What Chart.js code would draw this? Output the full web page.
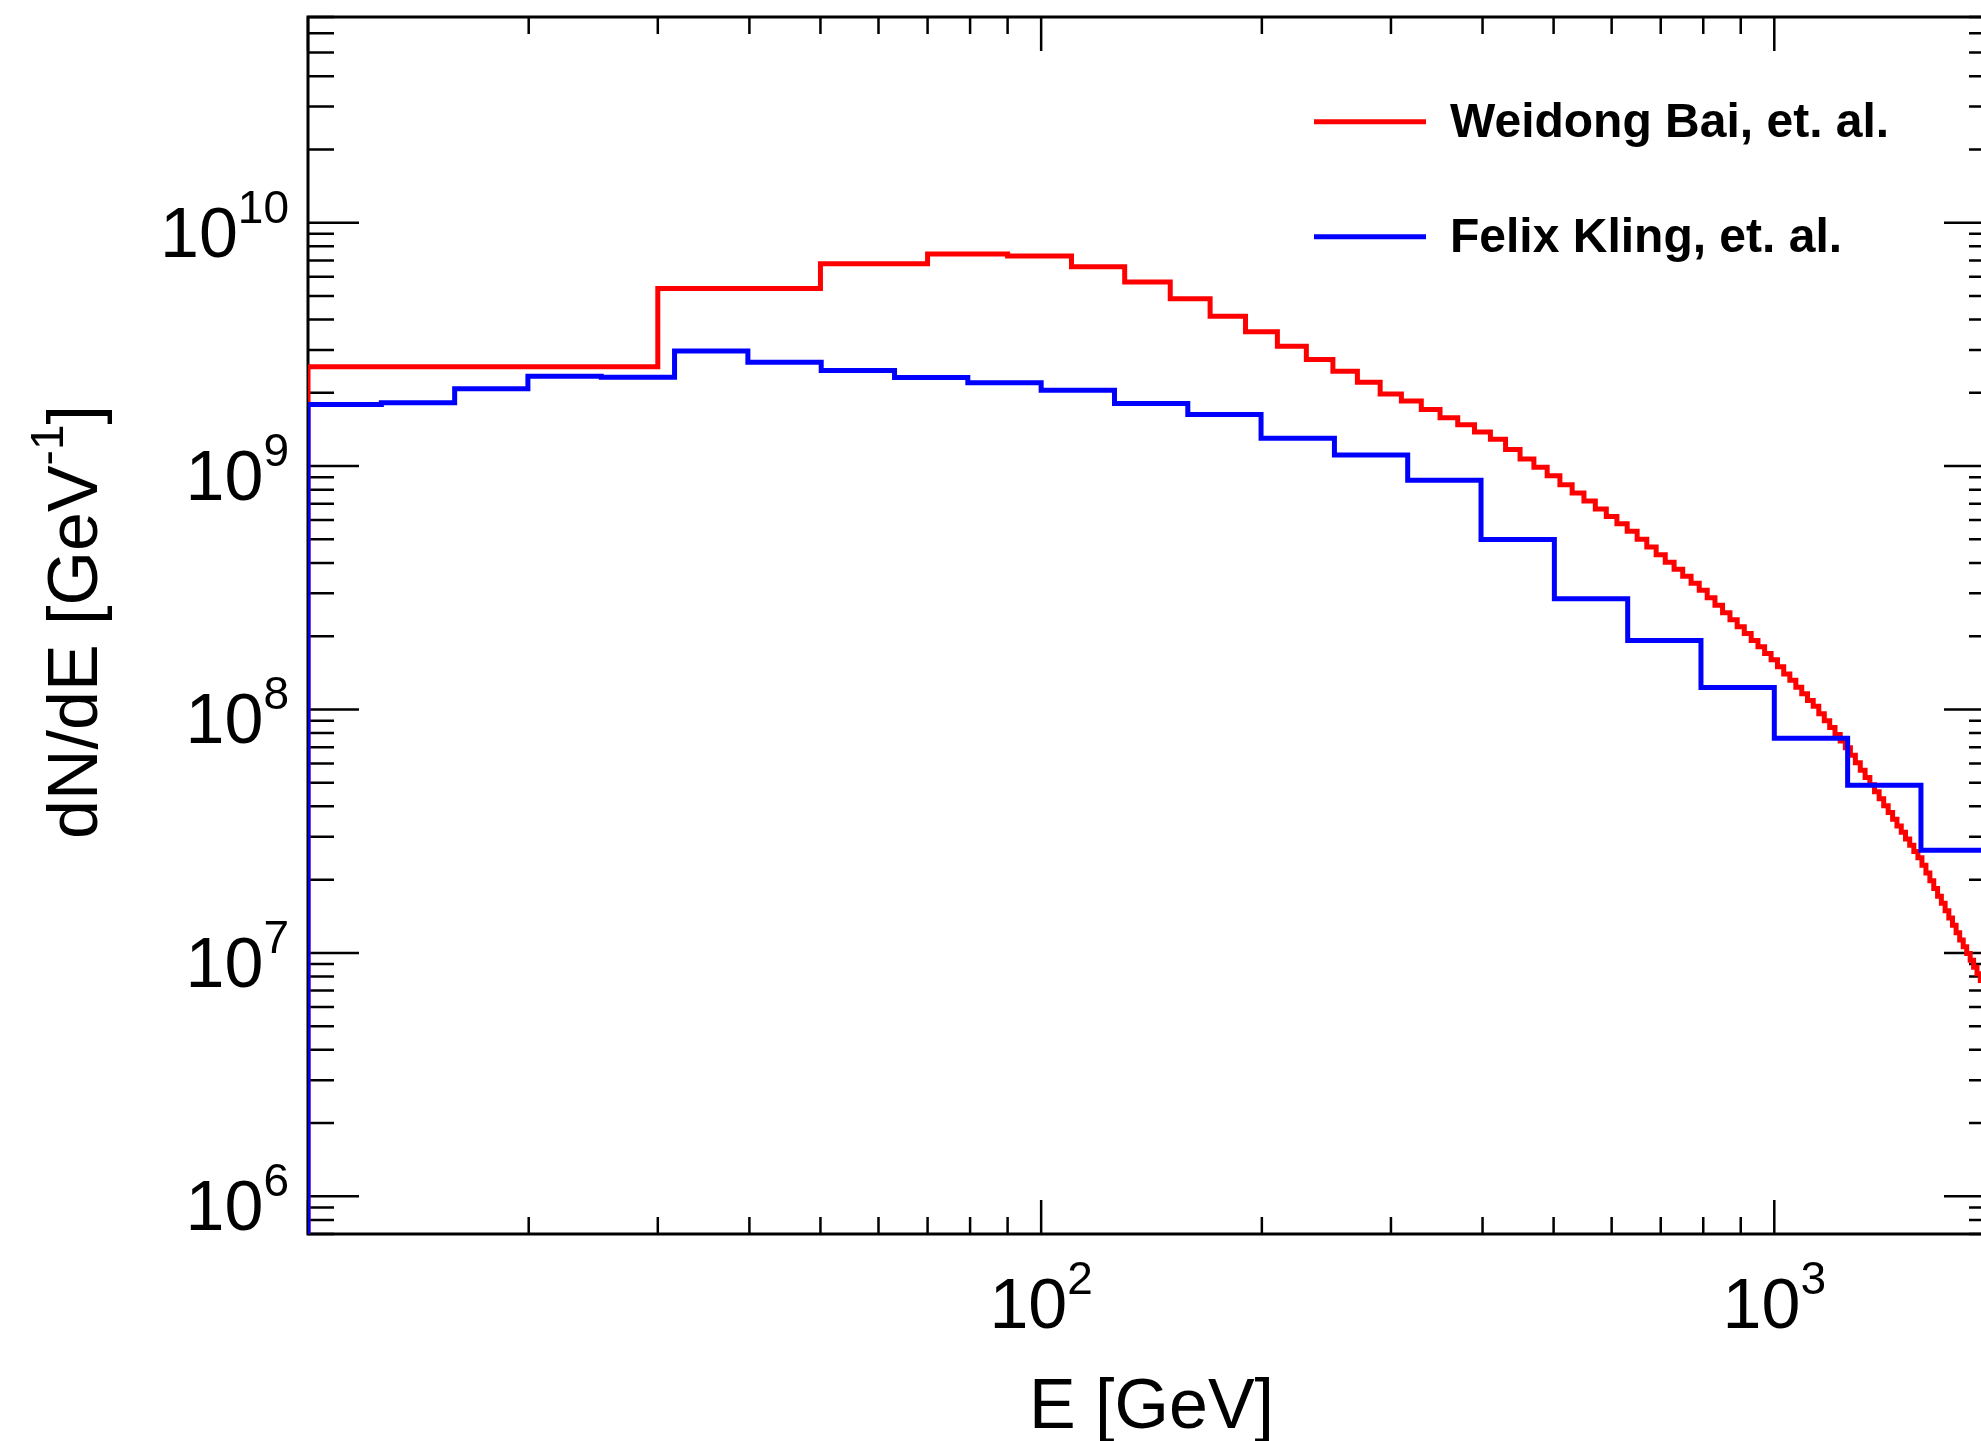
<!DOCTYPE html>
<html>
<head>
<meta charset="utf-8">
<title>dN/dE spectrum</title>
<script src="https://cdn.jsdelivr.net/npm/chart.js@4.4.1/dist/chart.umd.min.js"></script>
<style>
    html, body { margin: 0; padding: 0; background: #fff; overflow: hidden; }
    #wrap { width: 2000px; height: 1441px; }
</style>
</head>
<body>
<div id="wrap"><canvas id="spectrumChart" width="2000" height="1441"></canvas></div>
<script>
// Weidong Bai et al. : 20 GeV wide bins (edges in GeV)
const baiEdges = [10, 30, 50, 70, 90, 110, 130, 150, 170, 190, 210, 230, 250, 270, 290, 310, 330, 350, 370, 390,
    410, 430, 450, 470, 490, 510, 530, 550, 570, 590, 610, 630, 650, 670, 690, 710, 730, 750, 770, 790,
    810, 830, 850, 870, 890, 910, 930, 950, 970, 990, 1010, 1030, 1050, 1070, 1090, 1110, 1130, 1150, 1170, 1190,
    1210, 1230, 1250, 1270, 1290, 1310, 1330, 1350, 1370, 1390, 1410, 1430, 1450, 1470, 1490, 1510, 1530, 1550, 1570, 1590,
    1610, 1630, 1650, 1670, 1690, 1710, 1730, 1750, 1770, 1790, 1810, 1830, 1850, 1870, 1890, 1910, 1930];
const baiValues = [2.56e9, 5.37e9, 6.78e9, 7.43e9, 7.29e9, 6.59e9, 5.70e9, 4.87e9, 4.13e9, 3.56e9,
    3.11e9, 2.74e9, 2.45e9, 2.21e9, 1.98e9, 1.85e9, 1.71e9, 1.58e9, 1.48e9, 1.38e9,
    1.29e9, 1.17e9, 1.07e9, 9.89e8, 9.12e8, 8.39e8, 7.76e8, 7.18e8, 6.67e8, 6.21e8,
    5.80e8, 5.40e8, 5.01e8, 4.65e8, 4.32e8, 4.03e8, 3.77e8, 3.53e8, 3.30e8, 3.09e8,
    2.88e8, 2.68e8, 2.50e8, 2.34e8, 2.19e8, 2.05e8, 1.92e8, 1.81e8, 1.70e8, 1.60e8,
    1.50e8, 1.40e8, 1.32e8, 1.235e8, 1.16e8, 1.09e8, 1.03e8, 9.60e7, 8.99e7, 8.43e7,
    7.90e7, 7.43e7, 6.97e7, 6.49e7, 6.04e7, 5.63e7, 5.25e7, 4.91e7, 4.59e7, 4.30e7,
    4.02e7, 3.77e7, 3.54e7, 3.32e7, 3.13e7, 2.94e7, 2.77e7, 2.61e7, 2.46e7, 2.29e7,
    2.13e7, 1.98e7, 1.84e7, 1.71e7, 1.60e7, 1.49e7, 1.39e7, 1.30e7, 1.21e7, 1.13e7,
    1.06e7, 9.95e6, 9.33e6, 8.74e6, 8.21e6, 7.71e6];

// Felix Kling et al. : 10 bins per decade
const klingEdges = [10, 12.59, 15.85, 19.95, 25.12, 31.62, 39.81, 50.12, 63.10, 79.43,
    100, 125.9, 158.5, 199.5, 251.2, 316.2, 398.1, 501.2, 631.0, 794.3,
    1000, 1259, 1585, 1995];
const klingValues = [1.79e9, 1.82e9, 2.08e9, 2.34e9, 2.32e9, 2.97e9, 2.67e9, 2.47e9, 2.31e9, 2.20e9,
    2.05e9, 1.81e9, 1.63e9, 1.30e9, 1.11e9, 8.74e8, 4.99e8, 2.85e8, 1.92e8, 1.23e8,
    7.62e7, 4.88e7, 2.64e7];

const seriesNames = ['Weidong Bai, et. al.', 'Felix Kling, et. al.'];
const seriesColors = ['#ff0000', '#0000ff'];

const xTicks = [100, 1000];
const xTickExp = ['2', '3'];
const yTicks = [1e6, 1e7, 1e8, 1e9, 1e10];
const yTickExp = ['6', '7', '8', '9', '10'];

const X_MIN = 10, X_MAX = 2000;
const Y_MIN = 7e5, Y_MAX = 7e10;

const FONT = '"Liberation Sans", Arial, Helvetica, sans-serif';

// histogram outline: start from below the axis, then one point per bin left edge
function histPoints(edges, values) {
    const pts = [{ x: edges[0], y: Y_MIN / 10 }];
    values.forEach(function (v, i) {
        pts.push({ x: edges[i], y: v });
    });
    pts.push({ x: edges[edges.length - 1], y: values[values.length - 1] });
    return pts;
}

function drawPow(ctx, x, baseY, exp, align) {
    ctx.font = '70px ' + FONT;
    const bw = ctx.measureText('10').width;
    ctx.font = '46px ' + FONT;
    const ew = ctx.measureText(exp).width;
    let start = x;
    if (align === 'right') start = x - bw - ew;
    if (align === 'center') start = x - (bw + ew) / 2;
    ctx.textAlign = 'left';
    ctx.textBaseline = 'alphabetic';
    ctx.font = '70px ' + FONT;
    ctx.fillText('10', start, baseY);
    ctx.font = '46px ' + FONT;
    ctx.fillText(exp, start + bw, baseY - 34);
}

const framePlugin = {
    id: 'frame',
    beforeDatasetsDraw(chart) {
        const ctx = chart.ctx;
        const a = chart.chartArea;
        const xs = chart.scales.x, ys = chart.scales.y;
        ctx.save();
        ctx.strokeStyle = '#000';
        ctx.lineWidth = 2.5;
        ctx.beginPath();
        // y ticks, both sides, pointing inward
        for (let d = 5; d <= 10; d++) {
            for (let m = 1; m <= 9; m++) {
                const v = m * Math.pow(10, d);
                if (v < Y_MIN || v > Y_MAX) continue;
                const y = ys.getPixelForValue(v);
                const len = m === 1 ? 51 : 26;
                ctx.moveTo(a.left, y); ctx.lineTo(a.left + len, y);
                ctx.moveTo(a.right, y); ctx.lineTo(a.right - len, y);
            }
        }
        // x ticks, top and bottom
        for (let d = 1; d <= 3; d++) {
            for (let m = 1; m <= 9; m++) {
                const v = m * Math.pow(10, d);
                if (v < X_MIN || v > X_MAX) continue;
                const x = xs.getPixelForValue(v);
                const len = m === 1 ? 34 : 17;
                ctx.moveTo(x, a.bottom); ctx.lineTo(x, a.bottom - len);
                ctx.moveTo(x, a.top); ctx.lineTo(x, a.top + len);
            }
        }
        ctx.stroke();
        ctx.lineWidth = 3;
        ctx.strokeRect(a.left, a.top, a.right - a.left, a.bottom - a.top);
        ctx.restore();
    },
    afterDraw(chart) {
        const ctx = chart.ctx;
        const a = chart.chartArea;
        const xs = chart.scales.x, ys = chart.scales.y;
        ctx.save();
        ctx.fillStyle = '#000';

        yTicks.forEach(function (v, i) {
            drawPow(ctx, 289, ys.getPixelForValue(v) + 34, yTickExp[i], 'right');
        });
        xTicks.forEach(function (v, i) {
            drawPow(ctx, xs.getPixelForValue(v), 1328, xTickExp[i], 'center');
        });

        // x title
        ctx.font = '70px ' + FONT;
        ctx.textAlign = 'center';
        ctx.fillText('E [GeV]', (a.left + a.right) / 2, 1428);

        // y title, rotated
        ctx.translate(97, 622);
        ctx.rotate(-Math.PI / 2);
        ctx.textAlign = 'left';
        const p1 = 'dN/dE [GeV', p2 = '-1', p3 = ']';
        ctx.font = '70px ' + FONT;
        const w1 = ctx.measureText(p1).width, w3 = ctx.measureText(p3).width;
        ctx.font = '46px ' + FONT;
        const w2 = ctx.measureText(p2).width;
        let sx = -(w1 + w2 + w3) / 2;
        ctx.font = '70px ' + FONT;
        ctx.fillText(p1, sx, 0);
        ctx.font = '46px ' + FONT;
        ctx.fillText(p2, sx + w1, -34);
        ctx.font = '70px ' + FONT;
        ctx.fillText(p3, sx + w1 + w2, 0);
        ctx.setTransform(1, 0, 0, 1, 0, 0);

        // legend
        const rows = [121.7, 236.7];
        ctx.lineWidth = 5;
        ctx.font = 'bold 48px ' + FONT;
        ctx.textAlign = 'left';
        seriesNames.forEach(function (name, i) {
            ctx.strokeStyle = seriesColors[i];
            ctx.beginPath();
            ctx.moveTo(1314, rows[i]);
            ctx.lineTo(1426, rows[i]);
            ctx.stroke();
            ctx.fillStyle = '#000';
            ctx.fillText(name, 1450, rows[i] + 15);
        });
        ctx.restore();
    }
};

const ctx = document.getElementById('spectrumChart').getContext('2d');
const spectrumChart = new Chart(ctx, {
    type: 'line',
    data: {
        datasets: [{
            label: seriesNames[0],
            data: histPoints(baiEdges, baiValues),
            borderColor: seriesColors[0],
            borderWidth: 5,
            stepped: 'before',
            pointRadius: 0,
            fill: false,
            borderJoinStyle: 'miter',
            order: 2
        }, {
            label: seriesNames[1],
            data: histPoints(klingEdges, klingValues),
            borderColor: seriesColors[1],
            borderWidth: 5,
            stepped: 'before',
            pointRadius: 0,
            fill: false,
            borderJoinStyle: 'miter',
            order: 1
        }]
    },
    options: {
        responsive: false,
        animation: false,
        events: [],
        layout: {
            padding: { left: 308, right: 5, top: 17, bottom: 207 }
        },
        plugins: {
            legend: { display: false },
            tooltip: { enabled: false }
        },
        scales: {
            x: { type: 'logarithmic', min: X_MIN, max: X_MAX, display: false },
            y: { type: 'logarithmic', min: Y_MIN, max: Y_MAX, display: false }
        }
    },
    plugins: [framePlugin]
});
</script>
</body>
</html>
